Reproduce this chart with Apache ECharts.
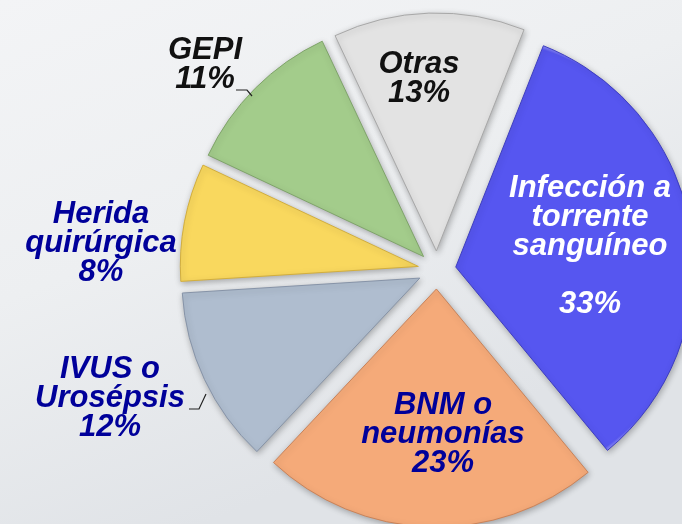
<!DOCTYPE html>
<html lang="es">
<head>
    <meta charset="UTF-8">
    <title>Infecciones</title>
    <script src="https://cdn.jsdelivr.net/npm/echarts@6/dist/echarts.min.js"></script>
    <style>
        html, body {
            margin: 0;
            padding: 0;
        }
        #chart {
            width: 682px;
            height: 524px;
        }
    </style>
</head>
<body>
    <div id="chart"></div>

    <script>
        // datos
        const categorias = ['Infección a\ntorrente\nsanguíneo', 'BNM o\nneumonías', 'IVUS o\nUrosépsis', 'Herida\nquirúrgica', 'GEPI', 'Otras']
        const porcentajes = [33, 23, 12, 8, 11, 13]
        const colores = ['#5656F0', '#F5AA79', '#AFBDCF', '#F9D85E', '#A3CC8B', '#E3E3E3']
        const claros = ['#8A8AF8', '#FCD0AE', '#DCE3EC', '#FDEDA8', '#CDE9BA', '#FFFFFF']
        const bordes = ['#3E3EC0', '#C9835A', '#8794A8', '#D2AE3E', '#7FA46A', '#A8A8A8']
        const colorTexto = ['#FFFFFF', '#00009A', '#00009A', '#00009A', '#111111', '#111111']

        // centro de cada bloque de texto
        const posEtiquetas = [
            [590, 246],
            [443, 434],
            [110, 398],
            [101, 243],
            [205, 65],
            [419, 79]
        ]

        const centro = [437, 270]
        const radio = 238
        const separacion = 19
        const anguloInicio = 68.4

        const chartDom = document.getElementById('chart')
        const myChart = echarts.init(chartDom)

        const total = porcentajes.reduce((a, b) => a + b, 0)
        let acumulado = 0

        const data = categorias.map((nombre, i) => {
            // centro desplazado de la porcion, para el degradado del borde
            const medio = (anguloInicio - (acumulado + porcentajes[i] / 2) / total * 360) * Math.PI / 180
            acumulado += porcentajes[i]
            const cx = centro[0] + Math.cos(medio) * separacion
            const cy = centro[1] - Math.sin(medio) * separacion
            return {
                name: nombre,
                value: porcentajes[i],
                selected: true,
                itemStyle: {
                    color: {
                        type: 'radial',
                        x: cx, y: cy, r: radio,
                        global: true,
                        colorStops: [
                            { offset: 0, color: colores[i] },
                            { offset: 0.945, color: colores[i] },
                            { offset: 0.96, color: claros[i] },
                            { offset: 0.975, color: claros[i] },
                            { offset: 0.99, color: colores[i] },
                            { offset: 1, color: bordes[i] }
                        ]
                    },
                    borderColor: bordes[i],
                    borderWidth: 1
                }
            }
        })

        const textos = categorias.map((nombre, i) => ({
            type: 'text',
            x: posEtiquetas[i][0],
            y: posEtiquetas[i][1],
            z: 10,
            style: {
                text: nombre + (i === 0 ? '\n\n' : '\n') + porcentajes[i] + '%',
                fill: colorTexto[i],
                font: 'italic bold 31px "Liberation Sans", Arial, sans-serif',
                lineHeight: 29,
                align: 'center',
                verticalAlign: 'middle'
            }
        }))

        // pequeñas lineas guia de GEPI y IVUS
        const guias = [
            { type: 'polyline', z: 10, shape: { points: [[236, 90], [247, 90], [252, 96]] }, style: { stroke: '#222', lineWidth: 1.2, fill: null } },
            { type: 'polyline', z: 10, shape: { points: [[189, 409], [199, 409], [206, 394]] }, style: { stroke: '#222', lineWidth: 1.2, fill: null } }
        ]

        const option = {
            backgroundColor: {
                type: 'linear',
                x: 0, y: 0, x2: 0.3, y2: 1,
                colorStops: [
                    { offset: 0, color: '#F3F4F6' },
                    { offset: 0.5, color: '#EDEFF1' },
                    { offset: 1, color: '#E0E3E7' }
                ]
            },
            animation: false,
            graphic: textos.concat(guias),
            series: [
                {
                    type: 'pie',
                    center: centro,
                    radius: [0, radio],
                    startAngle: anguloInicio,
                    clockwise: true,
                    selectedMode: 'multiple',
                    selectedOffset: separacion,
                    label: { show: false },
                    labelLine: { show: false },
                    itemStyle: {
                        shadowBlur: 6,
                        shadowColor: 'rgba(0,0,0,0.28)',
                        shadowOffsetX: 1,
                        shadowOffsetY: 2
                    },
                    data: data
                }
            ]
        }

        option && myChart.setOption(option)
    </script>
</body>
</html>
